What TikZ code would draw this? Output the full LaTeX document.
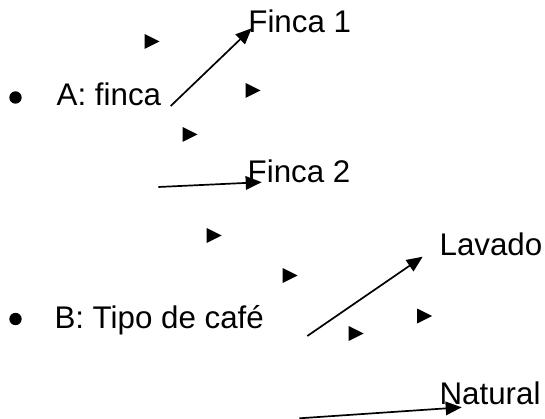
\documentclass[tikz,border=0pt]{standalone}
\usepackage{fontspec}
\setmainfont{Liberation Sans}
\usetikzlibrary{arrows.meta}
\tikzset{
  lbl/.style={anchor=base west, inner sep=0pt, font=\fontsize{31.3}{37}\selectfont},
  conn/.style={line width=1.7pt, -{Triangle[length=16pt,width=13.5pt]}},
  tri/.style={fill=black}
}
\begin{document}
\begin{tikzpicture}[x=1pt,y=-1pt]
\useasboundingbox (0,0) rectangle (545,419);
% labels
\node[lbl] (f1) at (248.2,33) {Finca 1};
\node[lbl] (a) at (56.5,106) {A: finca};
\node[lbl] (f2) at (247.5,183) {Finca 2};
\node[lbl] (lav) at (439.4,255) {Lavado};
\node[lbl] (b) at (54.3,328) {B: Tipo de café};
\node[lbl] (nat) at (439.4,404) {Natural};
% bullets
\fill (15.5,97.5) circle (6.2);
\fill (15.5,319) circle (6.2);
% connectors
\coordinate (s1) at (170.7,106);
\coordinate (t1) at (251.7,28.3);
\coordinate (s2) at (158.3,187);
\coordinate (t2) at (261.7,182.2);
\coordinate (s3) at (307.3,336);
\coordinate (t3) at (422.7,256.7);
\coordinate (s4) at (299.3,418.3);
\coordinate (t4) at (461.7,407.3);
\draw[conn] (s1) -- (t1);
\draw[conn] (s2) -- (t2);
\draw[conn] (s3) -- (t3);
\draw[conn] (s4) -- (t4);
% loose arrowheads
\foreach \cx/\cy in {152/41.5, 253/90.5, 190/134.5, 214/235.5, 290/275.5, 424.5/316, 356/333.5}
  \fill[tri] (\cx-7.5,\cy-7.5) -- (\cx+7.5,\cy) -- (\cx-7.5,\cy+7.5) -- cycle;
\end{tikzpicture}
\end{document}
